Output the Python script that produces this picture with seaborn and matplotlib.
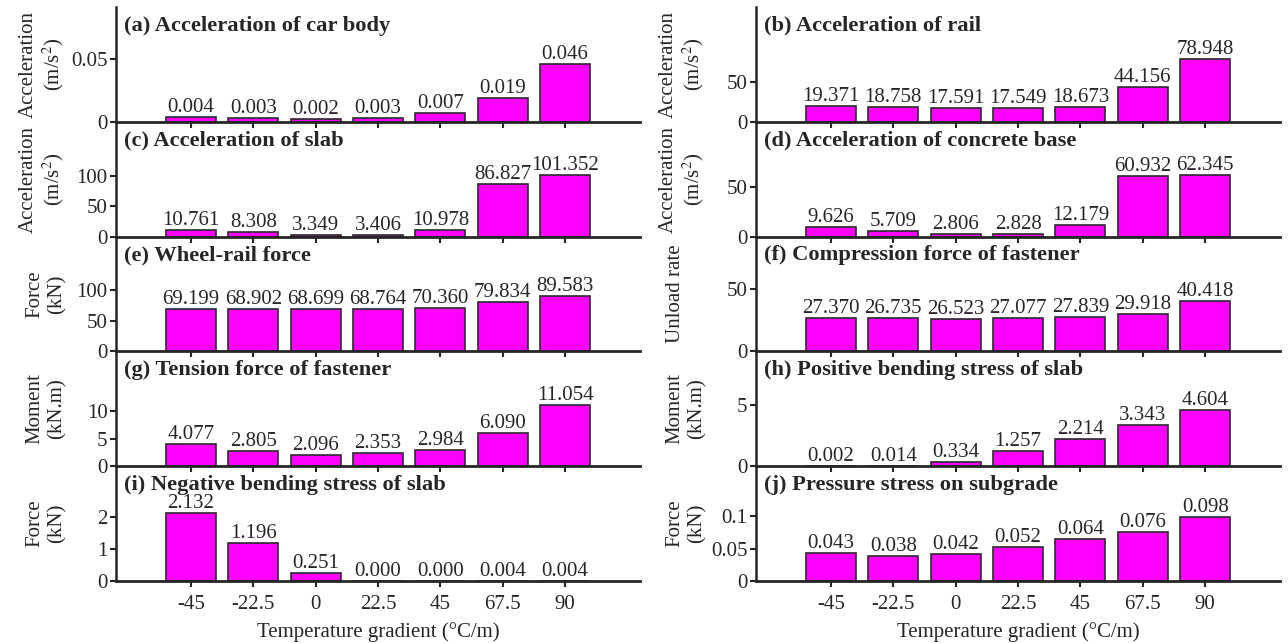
import matplotlib
matplotlib.use("Agg")
import matplotlib.pyplot as plt
import seaborn as sns
import pandas as pd

# Temperature gradients (°C/m) on the x axis
gradients = ["-45", "-22.5", "0", "22.5", "45", "67.5", "90"]

# Response values for each panel
car_body_acc = [0.004, 0.003, 0.002, 0.003, 0.007, 0.019, 0.046]
rail_acc = [19.371, 18.758, 17.591, 17.549, 18.673, 44.156, 78.948]
slab_acc = [10.761, 8.308, 3.349, 3.406, 10.978, 86.827, 101.352]
base_acc = [9.626, 5.709, 2.806, 2.828, 12.179, 60.932, 62.345]
wheel_rail_force = [69.199, 68.902, 68.699, 68.764, 70.360, 79.834, 89.583]
fastener_compression = [27.370, 26.735, 26.523, 27.077, 27.839, 29.918, 40.418]
fastener_tension = [4.077, 2.805, 2.096, 2.353, 2.984, 6.090, 11.054]
slab_pos_bending = [0.002, 0.014, 0.334, 1.257, 2.214, 3.343, 4.604]
slab_neg_bending = [2.132, 1.196, 0.251, 0.000, 0.000, 0.004, 0.004]
subgrade_pressure = [0.043, 0.038, 0.042, 0.052, 0.064, 0.076, 0.098]

titles = [
    "(a) Acceleration of car body", "(b) Acceleration of rail",
    "(c) Acceleration of slab", "(d) Acceleration of concrete base",
    "(e) Wheel-rail force", "(f) Compression force of fastener",
    "(g) Tension force of fastener", "(h) Positive bending stress of slab",
    "(i) Negative bending stress of slab", "(j) Pressure stress on subgrade",
]
ylabels = [
    "Acceleration\n(m/s$^2$)", "Acceleration\n(m/s$^2$)",
    "Acceleration\n(m/s$^2$)", "Acceleration\n(m/s$^2$)",
    "Force\n(kN)", "Unload rate\n ",
    "Moment\n(kN.m)", "Moment\n(kN.m)",
    "Force\n(kN)", "Force\n(kN)",
]
series = [car_body_acc, rail_acc, slab_acc, base_acc, wheel_rail_force,
          fastener_compression, fastener_tension, slab_pos_bending,
          slab_neg_bending, subgrade_pressure]
ylims = [0.091, 145, 190, 116, 187, 92.7, 20.9, 9.4, 3.6, 0.177]
yticks = [[0, 0.05], [0, 50], [0, 50, 100], [0, 50], [0, 50, 100],
          [0, 50], [0, 5, 10], [0, 5], [0, 1, 2], [0, 0.05, 0.1]]
ytick_text = [["0", "0.05"], ["0", "50"], ["0", "50", "100"], ["0", "50"],
              ["0", "50", "100"], ["0", "50"], ["0", "5", "10"], ["0", "5"],
              ["0", "1", "2"], ["0", "0.05", "0.1"]]

sns.set_theme(style="ticks")
plt.rcParams["font.family"] = ["Liberation Serif", "DejaVu Serif"]
plt.rcParams["mathtext.fontset"] = "stix"

FS = 15
TITLE_FS = 16.2
fig = plt.figure(figsize=(12.88, 6.43), dpi=100)

W, H = 1288, 643
col_left = [116, 756]
ax_w = 524
top, bottom = 7, 581
ph = (bottom - top) / 5

for i, vals in enumerate(series):
    row, col = divmod(i, 2)
    x0 = col_left[col] / W
    y0 = (H - (top + (row + 1) * ph)) / H
    ax = fig.add_axes([x0, y0, ax_w / W, ph / H])
    df = pd.DataFrame({"gradient": gradients, "value": vals})
    sns.barplot(data=df, x="gradient", y="value", order=gradients, ax=ax,
                color="#FF00FF", saturation=1, width=0.8,
                edgecolor="#2b2b2b", linewidth=1.2)
    ax.bar_label(ax.containers[0], fmt="%.3f", padding=0, fontsize=FS)
    ax.set_xlim(-1.2, 7.2)
    ax.set_ylim(0, ylims[i])
    ax.set_yticks(yticks[i])
    ax.set_yticklabels(ytick_text[i], fontsize=FS)
    for s in ["top", "right"]:
        ax.spines[s].set_visible(False)
    ax.spines["left"].set_linewidth(1.8)
    ax.spines["bottom"].set_linewidth(2.0)
    ax.tick_params(axis="both", direction="out", length=4, width=1.5,
                   labelsize=FS, pad=2)
    ax.set_ylabel(ylabels[i], fontsize=FS, linespacing=1.15)
    ax.yaxis.set_label_coords(-0.095, 0.5)
    ax.text(0.015, 0.925, titles[i], transform=ax.transAxes, ha="left",
            va="top", fontsize=TITLE_FS, fontweight="bold")
    if row == 4:
        ax.set_xlabel("Temperature gradient (°C/m)", fontsize=FS, labelpad=6)
        ax.tick_params(axis="x", labelsize=FS, pad=6)
    else:
        ax.set_xlabel("")
        ax.tick_params(axis="x", labelbottom=False)
    ax.patch.set_alpha(0)

fig.savefig("out.png", dpi=100)
